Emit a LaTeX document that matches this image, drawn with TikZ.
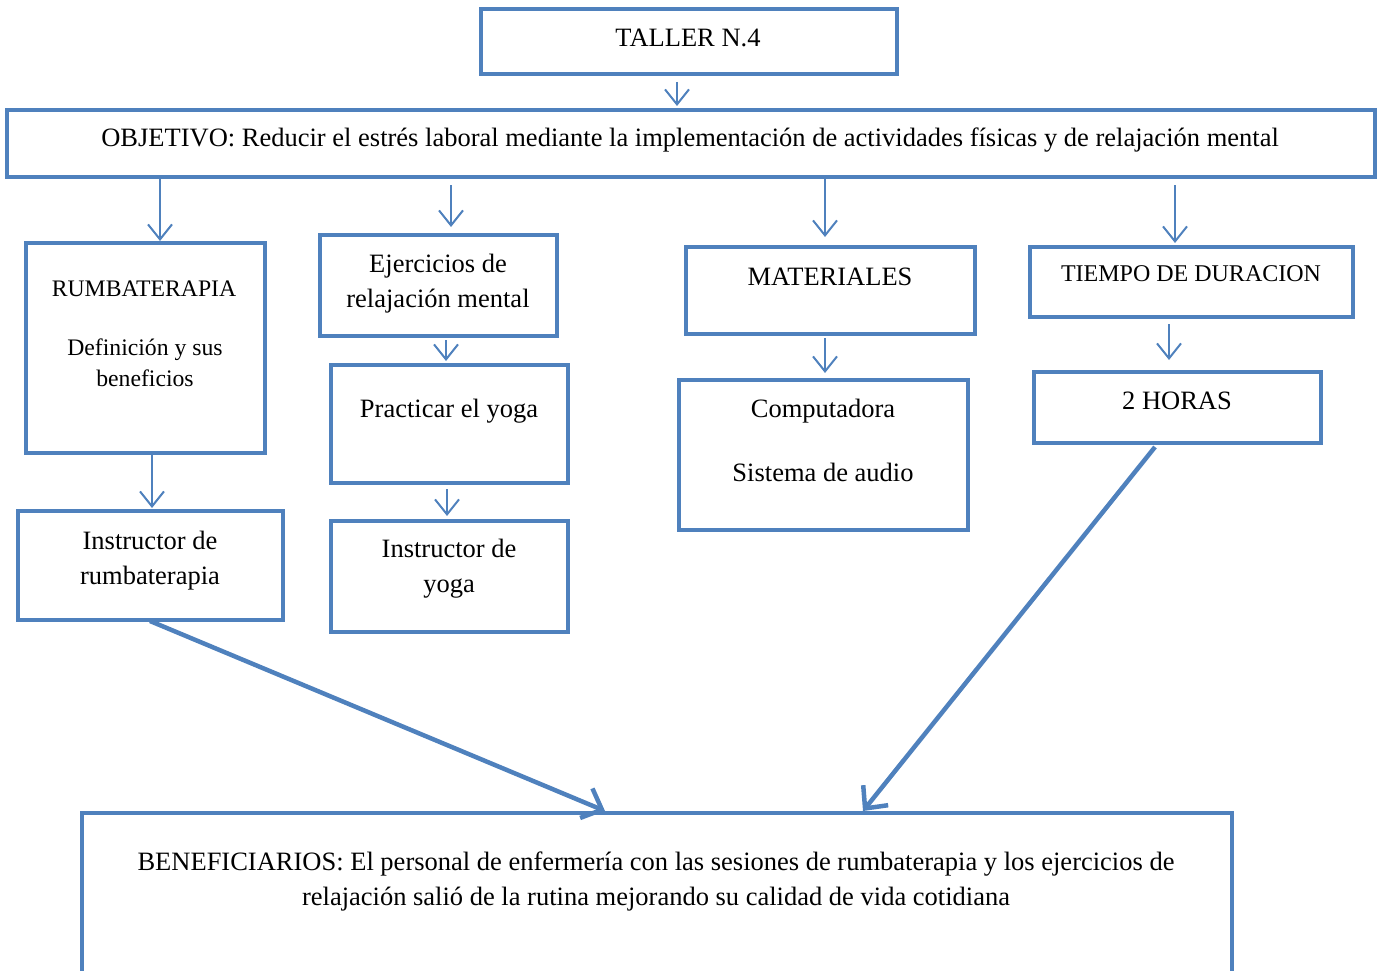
\documentclass[tikz,border=0pt]{standalone}
\usepackage{fontspec}
\setmainfont{Liberation Serif}
\usetikzlibrary{arrows.meta}
\definecolor{boxblue}{HTML}{4F81BD}
\tikzset{
  box/.style={draw=boxblue, line width=4pt, rectangle, inner sep=0pt, fill=white},
  txt/.style={inner sep=0pt, align=center, font=\fontsize{26.5}{35}\selectfont},
  smalltxt/.style={inner sep=0pt, align=center, font=\fontsize{23.7}{31}\selectfont},
  arr/.style={draw=boxblue, line width=2pt, -{Straight Barb[length=15pt,width=24pt,line width=2pt]}},
  bigarr/.style={draw=boxblue, line width=4.5pt, -{Straight Barb[length=17pt,width=32pt,line width=4.5pt]}},
}
\begin{document}
\begin{tikzpicture}[x=1pt,y=-1pt]
\useasboundingbox (0,0) rectangle (1383,971);

% boxes
\node[box, minimum width=416, minimum height=65] (taller) at (689,41.5) {};
\node[box, minimum width=1368, minimum height=67] (objetivo) at (691,143.5) {};
\node[box, minimum width=239, minimum height=210] (rumba) at (145.5,348) {};
\node[box, minimum width=237, minimum height=101] (ejer) at (438.5,285.5) {};
\node[box, minimum width=237, minimum height=118] (yoga) at (449.5,424) {};
\node[box, minimum width=237, minimum height=111] (iyoga) at (449.5,576.5) {};
\node[box, minimum width=265, minimum height=109] (irumba) at (150.5,565.5) {};
\node[box, minimum width=289, minimum height=87] (mat) at (830.5,290.5) {};
\node[box, minimum width=289, minimum height=150] (comp) at (823.5,455) {};
\node[box, minimum width=323, minimum height=70] (tiempo) at (1191.5,282) {};
\node[box, minimum width=287, minimum height=71] (horas) at (1177.5,407.5) {};
\node[box, minimum width=1150, minimum height=180] (benef) at (657,903) {};

% texts
\node[txt] at (688,38) {TALLER N.4};
\node[txt] at (690,140) {OBJETIVO: Reducir el estrés laboral mediante la implementación de actividades físicas y de relajación mental};
\node[smalltxt] at (144,289) {RUMBATERAPIA};
\node[smalltxt] at (145,363) {Definición y sus\\beneficios};
\node[txt] at (438,284) {Ejercicios de\\relajación mental};
\node[txt] at (449,411) {Practicar el yoga};
\node[txt] at (449,569) {Instructor de\\yoga};
\node[txt] at (150,561) {Instructor de\\rumbaterapia};
\node[txt] at (830,277) {MATERIALES};
\node[txt] at (823,411) {Computadora};
\node[txt] at (823,472) {Sistema de audio};
\node[font=\fontsize{24}{30}\selectfont, inner sep=0pt] at (1191,274) {TIEMPO DE DURACION};
\node[txt] at (1177,401) {2 HORAS};
\node[txt] at (656,881.5) {BENEFICIARIOS: El personal de enfermería con las sesiones de rumbaterapia y los ejercicios de\\relajación salió de la rutina mejorando su calidad de vida cotidiana};

% arrow columns
\coordinate (xa) at (677,0);
\coordinate (xb) at (160,0);
\coordinate (xc) at (451,0);
\coordinate (xd) at (825,0);
\coordinate (xe) at (1175,0);
\coordinate (xf) at (152,0);
\coordinate (xg) at (446,0);
\coordinate (xh) at (447,0);
\coordinate (xi) at (825,0);
\coordinate (xj) at (1169,0);

\draw[arr, shorten <=6pt, shorten >=2pt] (taller.south -| xa) -- (objetivo.north -| xa);
\draw[arr] (objetivo.south -| xb) -- (rumba.north -| xb);
\draw[arr, shorten <=6pt, shorten >=6pt] (objetivo.south -| xc) -- (ejer.north -| xc);
\draw[arr, shorten >=8pt] (objetivo.south -| xd) -- (mat.north -| xd);
\draw[arr, shorten <=6pt, shorten >=2pt] (objetivo.south -| xe) -- (tiempo.north -| xe);
\draw[arr, shorten >=1pt] (rumba.south -| xf) -- (irumba.north -| xf);
\draw[arr, shorten <=2pt, shorten >=2pt] (ejer.south -| xg) -- (yoga.north -| xg);
\draw[arr, shorten <=4pt, shorten >=3pt] (yoga.south -| xh) -- (iyoga.north -| xh);
\draw[arr, shorten <=2pt, shorten >=5pt] (mat.south -| xi) -- (comp.north -| xi);
\draw[arr, shorten <=5pt, shorten >=10pt] (tiempo.south -| xj) -- (horas.north -| xj);

% converging arrows
\coordinate (s1) at (150,621);
\coordinate (e1) at (605,811);
\coordinate (s2) at (1155,447);
\coordinate (e2) at (863,811);
\draw[bigarr] (s1) -- (e1);
\draw[bigarr] (s2) -- (e2);
\end{tikzpicture}
\end{document}
